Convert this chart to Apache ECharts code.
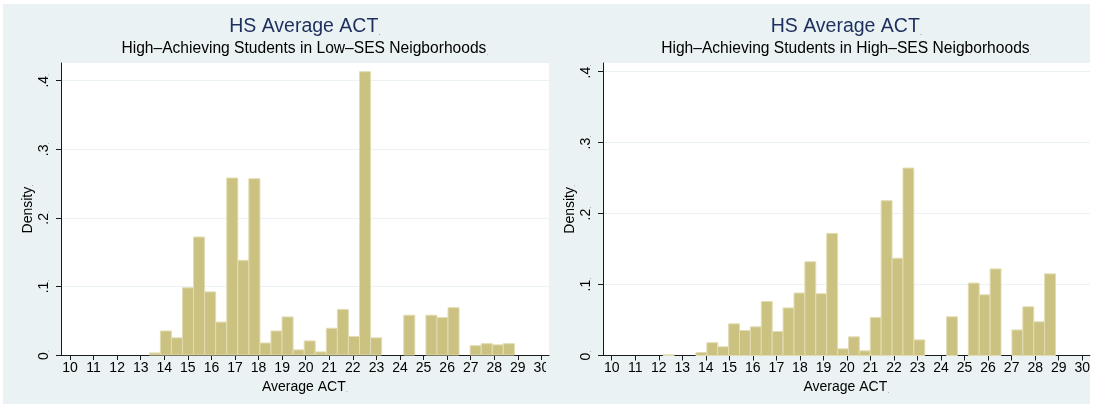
<!DOCTYPE html>
<html><head><meta charset="utf-8">
<script src="https://cdn.jsdelivr.net/npm/echarts@6/dist/echarts.min.js"></script>
<style>
html,body{margin:0;padding:0;background:#fff;}
#bg{position:absolute;left:3px;top:4px;width:1087px;height:400px;background:#EAF2F3;}
#c{position:absolute;left:0;top:0;width:1093px;height:408px;}
</style>
</head><body><div id="bg"></div><div id="c"></div>
<script>
// ---- data ----
const xTicks = [10,11,12,13,14,15,16,17,18,19,20,21,22,23,24,25,26,27,28,29,30];
const yTicks = [0, 0.1, 0.2, 0.3, 0.4];
const mainTitle = 'HS Average ACT';
const lowSubtitle = 'High\u2013Achieving Students in Low\u2013SES Neigborhoods';
const highSubtitle = 'High\u2013Achieving Students in High\u2013SES Neigborhoods';
const xName = 'Average ACT';
const yName = 'Density';
// Low-SES histogram: first bin start and bin width, density per bin
const lowBinStart = 13.364;
const lowBinWidth = 0.4694;
const lowDensity = [0.003, 0.035, 0.025, 0.098, 0.172, 0.092, 0.048, 0.258, 0.138, 0.257,
  0.0175, 0.035, 0.0555, 0.0075, 0.0205, 0.0045, 0.039, 0.0665, 0.027, 0.413,
  0.025, 0, 0, 0.058, 0, 0.058, 0.0545, 0.069, 0, 0.0136, 0.0165, 0.0148, 0.0165];
// High-SES histogram
const highBinStart = 12.19;
const highBinWidth = 0.4632;
const highDensity = [0.001, 0, 0, 0.0042, 0.018, 0.0123, 0.0446, 0.0352, 0.0404, 0.076,
  0.0338, 0.067, 0.088, 0.132, 0.087, 0.172, 0.0094, 0.0263, 0.0066, 0.0535,
  0.218, 0.137, 0.264, 0.022, 0, 0, 0.0545, 0, 0.102, 0.0855,
  0.122, 0, 0.036, 0.0686, 0.0475, 0.115];

// ---- build ----
const FONT = '"Liberation Sans", Arial, Helvetica, sans-serif';
const BAR_FILL = '#CBC281';
const BAR_STROKE = '#E2DCB3';
const AXIS_COLOR = '#1a1a1a';
const GRID_COLOR = '#EAF2F3';
const BG = '#EAF2F3';
const dotRich = { d: { fontSize: 8, color: '#8a8a8a', fontFamily: FONT, verticalAlign: 'bottom' } };

function bins(start, width, dens) {
  return dens.map((d, i) => [start + i * width, start + (i + 1) * width, d]);
}
function renderBar(params, api) {
  const h = api.value(2);
  if (!h) return null;
  const p0 = api.coord([api.value(0), h]);
  const p1 = api.coord([api.value(1), 0]);
  return {
    type: 'rect',
    shape: { x: p0[0], y: p0[1], width: p1[0] - p0[0], height: p1[1] - p0[1] },
    style: { fill: BAR_FILL, stroke: BAR_STROKE, lineWidth: 1 }
  };
}
function xAxisCfg(idx, min, max) {
  return {
    type: 'value', gridIndex: idx, min: min, max: max,
    name: xName + '{d|.}', nameLocation: 'middle', nameGap: 21,
    nameTextStyle: { fontSize: 14, color: '#000', fontFamily: FONT, rich: dotRich },
    axisLine: { show: true, onZero: false, lineStyle: { color: AXIS_COLOR, width: 1 } },
    axisTick: { show: true, length: 5, customValues: xTicks, lineStyle: { color: AXIS_COLOR } },
    axisLabel: { show: true, customValues: xTicks, fontSize: 14, color: '#000', fontFamily: FONT, margin: 6, showMinLabel: true, showMaxLabel: true },
    splitLine: { show: false }
  };
}
function yAxisCfg(idx, max) {
  return {
    type: 'value', gridIndex: idx, min: 0, max: max,
    name: yName + '{d|.}', nameLocation: 'middle', nameGap: 26, nameRotate: 90,
    nameTextStyle: { fontSize: 14, color: '#000', fontFamily: FONT, rich: dotRich },
    axisLine: { show: true, lineStyle: { color: AXIS_COLOR, width: 1 } },
    axisTick: { show: true, length: 5, customValues: yTicks, lineStyle: { color: AXIS_COLOR } },
    axisLabel: {
      show: true, customValues: yTicks, rotate: 90, fontSize: 14, color: '#000', fontFamily: FONT, margin: 10,
      formatter: v => (v === 0 ? '0' : '.' + Math.round(v * 10)) + '{d|.}', rich: dotRich
    },
    splitLine: { show: true, lineStyle: { color: GRID_COLOR, width: 1 } }
  };
}
function titleEls(cx, sub) {
  return [
    { type: 'text', x: cx, y: 27, silent: true,
      style: { text: mainTitle + '{d|.}', fill: '#1E2F5E', font: '19.5px ' + FONT, align: 'center', verticalAlign: 'middle',
        rich: { d: { fontSize: 9, fill: '#8a8a8a', fontFamily: FONT, verticalAlign: 'bottom' } } } },
    { type: 'text', x: cx, y: 48.5, silent: true,
      style: { text: sub + '{d|.}', fill: '#000', font: '15.6px ' + FONT, align: 'center', verticalAlign: 'middle',
        rich: { d: { fontSize: 8, fill: '#8a8a8a', fontFamily: FONT, verticalAlign: 'bottom' } } } }
  ];
}

const chart = echarts.init(document.getElementById('c'), null, { renderer: 'canvas' });
chart.setOption({
  backgroundColor: 'transparent',
  animation: false,
  grid: [
    { left: 61, top: 63, width: 488, height: 292, show: true, backgroundColor: '#fff', borderWidth: 0 },
    { left: 603, top: 63, width: 487, height: 292.5, show: true, backgroundColor: '#fff', borderWidth: 0 }
  ],
  xAxis: [xAxisCfg(0, 9.618, 30.322), xAxisCfg(1, 9.630, 30.327)],
  yAxis: [yAxisCfg(0, 0.4257), yAxisCfg(1, 0.4120)],
  graphic: titleEls(305, lowSubtitle).concat(titleEls(846.5, highSubtitle)).concat([
    // the right-hand graph region overlaps the end of the left x-axis labels, as in the original
    { type: 'rect', x: 546, y: 357, z: 100, silent: true, shape: { width: 10, height: 22 }, style: { fill: BG } }
  ]),
  series: [
    { type: 'custom', xAxisIndex: 0, yAxisIndex: 0, renderItem: renderBar,
      encode: { x: [0, 1], y: 2 }, data: bins(lowBinStart, lowBinWidth, lowDensity) },
    { type: 'custom', xAxisIndex: 1, yAxisIndex: 1, renderItem: renderBar,
      encode: { x: [0, 1], y: 2 }, data: bins(highBinStart, highBinWidth, highDensity) }
  ]
});
</script>
</body></html>
